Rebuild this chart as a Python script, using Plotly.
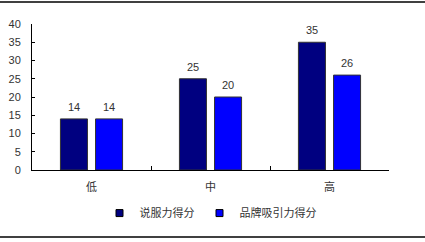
import plotly.graph_objects as go

categories = ["低", "中", "高"]
series_names = ["说服力得分", "品牌吸引力得分"]
persuasion = [14, 25, 35]
brand_appeal = [14, 20, 26]
colors = ["#000080", "#0000FF"]

fig = go.Figure()
for name, vals, col in zip(series_names, [persuasion, brand_appeal], colors):
    fig.add_trace(go.Bar(
        x=categories, y=vals, name=name, showlegend=False,
        marker=dict(color=col, line=dict(color="#333333", width=1)),
        cliponaxis=False,
    ))
for name, col in zip(series_names, colors):
    fig.add_trace(go.Scatter(
        x=[None], y=[None], mode="markers", name=name,
        marker=dict(symbol="square", size=7, color=col, line=dict(color="#000000", width=1)),
    ))

annotations = []
for vals, shift in zip([persuasion, brand_appeal], [-17.5, 17.5]):
    for c, v in zip(categories, vals):
        annotations.append(dict(
            x=c, y=v, xref="x", yref="y", text=str(v), showarrow=False,
            xshift=shift, yshift=12, yanchor="middle",
            font=dict(family="Liberation Sans, Arial", size=11, color="#333333"),
        ))

fig.update_layout(
    width=425, height=242,
    margin=dict(l=32, r=36, t=24, b=72),
    paper_bgcolor="white", plot_bgcolor="white",
    barmode="group", bargap=0.41, bargroupgap=0.23,
    font=dict(family="Liberation Sans, Noto Sans CJK SC", size=11, color="#333333"),
    legend=dict(orientation="h", x=0.5, xanchor="center", y=-0.295, yanchor="middle",
                font=dict(family="Noto Sans CJK SC", size=11, color="#333333"),
                itemwidth=30, tracegroupgap=0),
    xaxis=dict(showline=True, linecolor="#000000", linewidth=1,
               ticks="inside", ticklen=4, tickcolor="#000000", tickson="boundaries",
               ticklabelstandoff=7, automargin=False,
               tickfont=dict(family="Noto Sans CJK SC", size=11, color="#333333"),
               showgrid=False),
    yaxis=dict(range=[0, 40], dtick=5, showline=True, linecolor="#000000", linewidth=1,
               ticks="inside", ticklen=3, tickcolor="#000000", showgrid=False,
               zeroline=False, ticklabelstandoff=8, automargin=False,
               tickfont=dict(family="Liberation Sans, Arial", size=11, color="#333333")),
    annotations=annotations,
    shapes=[
        dict(type="line", xref="paper", yref="paper", x0=-1, x1=2, y0=1.0 + 22/146, y1=1.0 + 22/146,
             line=dict(color="#000000", width=1.5)),
        dict(type="line", xref="paper", yref="paper", x0=-1, x1=2, y0=-67/146, y1=-67/146,
             line=dict(color="#000000", width=1.5)),
    ],
)
fig.write_html("out.html")
